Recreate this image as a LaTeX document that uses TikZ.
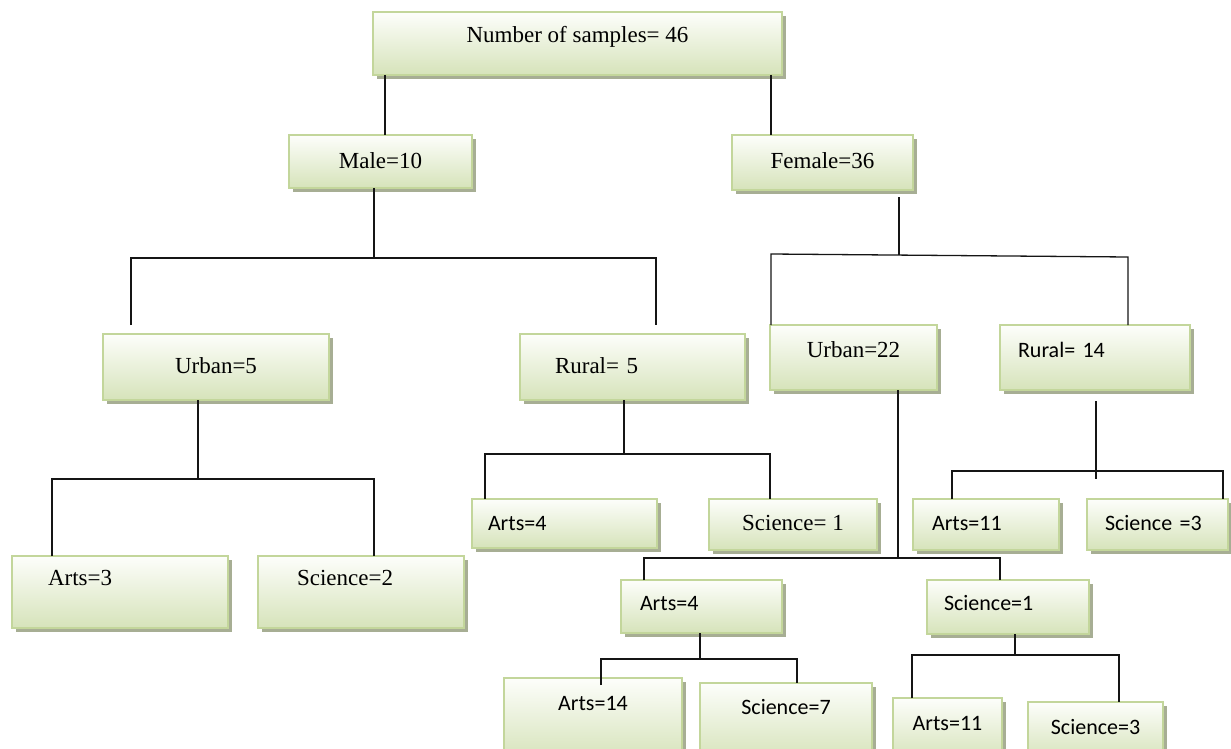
\documentclass[tikz,border=0pt]{standalone}
\usepackage{fontspec}
\setmainfont{Liberation Serif}
\newfontfamily\calib{Carlito}
\usetikzlibrary{shadows}
\definecolor{bord}{HTML}{C3D69B}
\definecolor{topc}{HTML}{FDFEFB}
\definecolor{botc}{HTML}{D6E3BA}
\definecolor{shad}{HTML}{A7AE94}
\definecolor{ink}{HTML}{151515}
\tikzset{
  box/.style={draw=bord, line width=1.6pt, top color=topc, bottom color=botc,
    drop shadow={shadow xshift=4pt, shadow yshift=-4pt, fill=shad, opacity=1},
    anchor=north west, inner ysep=0pt, inner xsep=0pt, outer sep=0pt,
    font=\fontsize{23}{27}\selectfont},
  sans/.style={font=\calib\fontsize{22}{26}\selectfont},
  geo/.style n args={3}{minimum width=#1pt, text height=#2pt, text depth=#3pt},
  lt/.style 2 args={inner xsep=#1pt, text width=#2pt, align=left},
  conn/.style={draw=ink, line width=1.3pt}
}
\begin{document}
\begin{tikzpicture}[x=1pt,y=-1pt]
\useasboundingbox (0,0) rectangle (1231,749);
\clip (0,0) rectangle (1231,749);
% boxes
\node[box, geo={409}{31}{32}] (root) at (373,12) {Number of samples= 46};
\node[box, geo={183}{33}{20}] (male) at (289,135) {Male=10};
\node[box, geo={181}{33}{22}] (female) at (732,135) {Female=36};
\node[box, geo={226}{39}{27}] (urban5) at (103,334) {Urban=5};
\node[box, geo={225}{39}{27}, lt={35}{155}] (rural5) at (520,334) {Rural= 5};
\node[box, geo={167}{32}{33}] (urban22) at (770,325) {Urban=22};
\node[box, sans, geo={190}{32}{33}, lt={18}{154}] (rural14) at (1000,325) {Rural= 14};
\node[box, sans, geo={185}{31}{18}, lt={16}{153}] (arts4a) at (472,499) {Arts=4};
\node[box, geo={168}{31}{20}] (sci1a) at (709,499) {Science= 1};
\node[box, sans, geo={146}{31}{20}, lt={19}{108}] (arts11a) at (913,499) {Arts=11};
\node[box, sans, geo={141}{31}{20}, lt={18}{105}] (sci3a) at (1087,499) {Science =3};
\node[box, geo={216}{29}{43}, lt={36}{144}] (arts3) at (12,556) {Arts=3};
\node[box, geo={206}{29}{43}, lt={39}{128}] (sci2) at (258,556) {Science=2};
\node[box, sans, geo={161}{30}{23}, lt={19}{123}] (arts4b) at (621,580) {Arts=4};
\node[box, sans, geo={162}{30}{24}, lt={17}{128}] (sci1b) at (927,580) {Science=1};
\node[box, sans, geo={178}{32}{50}] (arts14) at (504,678) {Arts=14};
\node[box, sans, geo={172}{31}{46}] (sci7) at (700,683) {Science=7};
\node[box, sans, geo={109}{32}{30}] (arts11b) at (893,698) {Arts=11};
\node[box, sans, geo={135}{32}{26}] (sci3b) at (1028,702) {Science=3};
% connector coordinates
\coordinate (xa) at (385,0);
\coordinate (xb) at (771,0);
\coordinate (mj) at (374,258);
\coordinate (ml) at (131,258);
\coordinate (mr) at (656,258);
\coordinate (mle) at (131,325);
\coordinate (mre) at (656,325);
\coordinate (fj) at (899,255);
\coordinate (fl) at (771,254);
\coordinate (fr) at (1128,257);
\coordinate (uj) at (198,479);
\coordinate (ul) at (52,479);
\coordinate (ur) at (374,479);
\coordinate (rj) at (624,454);
\coordinate (rl) at (485,454);
\coordinate (rr) at (770,454);
\coordinate (qj) at (1096,471);
\coordinate (qjs) at (1096,401);
\coordinate (qje) at (1096,479);
\coordinate (ql) at (952,471);
\coordinate (qr) at (1223,471);
\coordinate (vj) at (898,558);
\coordinate (vl) at (644,558);
\coordinate (vr) at (1000,558);
\coordinate (aj) at (700,659);
\coordinate (al) at (601,659);
\coordinate (ar) at (797,659);
\coordinate (ale) at (601,685);
\coordinate (sj) at (1015,655);
\coordinate (sl) at (912,655);
\coordinate (sr) at (1119,655);
% connectors
\draw[conn] (root.south -| xa) -- (male.north -| xa);
\draw[conn] (root.south -| xb) -- (female.north -| xb);
\draw[conn] (male.south -| mj) -- (mj);
\draw[conn] (mle) -- (ml) -- (mr) -- (mre);
\draw[conn] ([yshift=-7pt]female.south -| fj) -- (fj);
\draw[conn] (urban22.north -| fl) -- (fl) -- (fr) -- (rural14.north -| fr);
\draw[conn] (urban5.south -| uj) -- (uj);
\draw[conn] (arts3.north -| ul) -- (ul) -- (ur) -- (sci2.north -| ur);
\draw[conn] (rural5.south -| rj) -- (rj);
\draw[conn] (arts4a.north -| rl) -- (rl) -- (rr) -- (sci1a.north -| rr);
\draw[conn] (qjs) -- (qje);
\draw[conn] (arts11a.north -| ql) -- (ql) -- (qr) -- (sci3a.north -| qr);
\draw[conn] (urban22.south -| vj) -- (vj);
\draw[conn] (arts4b.north -| vl) -- (vl) -- (vr) -- (sci1b.north -| vr);
\draw[conn] (arts4b.south -| aj) -- (aj);
\draw[conn] (ale) -- (al) -- (ar) -- (sci7.north -| ar);
\draw[conn] (sci1b.south -| sj) -- (sj);
\draw[conn] (arts11b.north -| sl) -- (sl) -- (sr) -- (sci3b.north -| sr);
\end{tikzpicture}
\end{document}
